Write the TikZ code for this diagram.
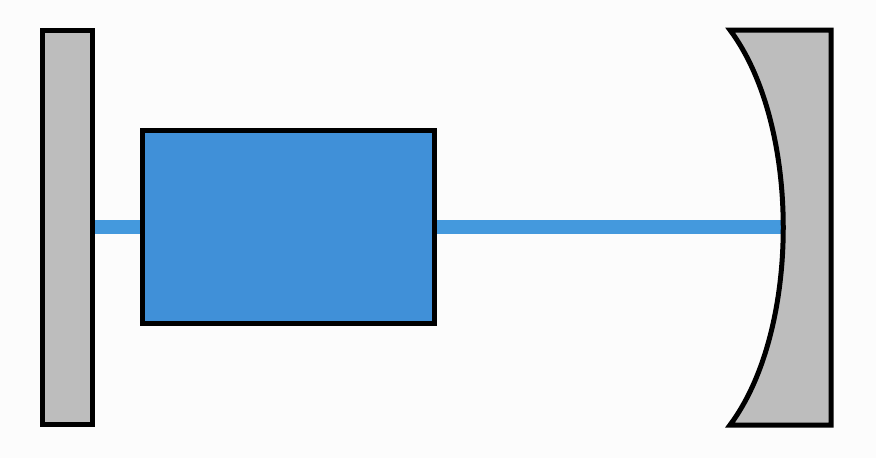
\documentclass[tikz,border=0pt]{standalone}
\begin{document}
\begin{tikzpicture}[x=1pt,y=-1pt]
\definecolor{mgray}{HTML}{BDBDBD}
\definecolor{blu}{HTML}{4090D8}
\definecolor{beam}{HTML}{4499DD}
\tikzset{mirror/.style={draw=black,line width=5pt,fill=mgray}}
\fill[white!99!black] (0,0) rectangle (876,458);
\useasboundingbox (0,0) rectangle (876,458);
\draw[beam,line width=14pt] (95,227) -- (782,227);
\node[mirror,minimum width=50pt,minimum height=394pt,inner sep=0pt] (lm) at (67.5,227.5) {};
\node[draw=black,line width=5pt,fill=blu,minimum width=292pt,minimum height=193pt,inner sep=0pt] (box) at (288.5,227) {};
\draw[mirror,line join=miter] (730,30) -- (831,30) -- (831,425) -- (730,425) .. controls (801,330) and (801,125) .. cycle;
\end{tikzpicture}
\end{document}
